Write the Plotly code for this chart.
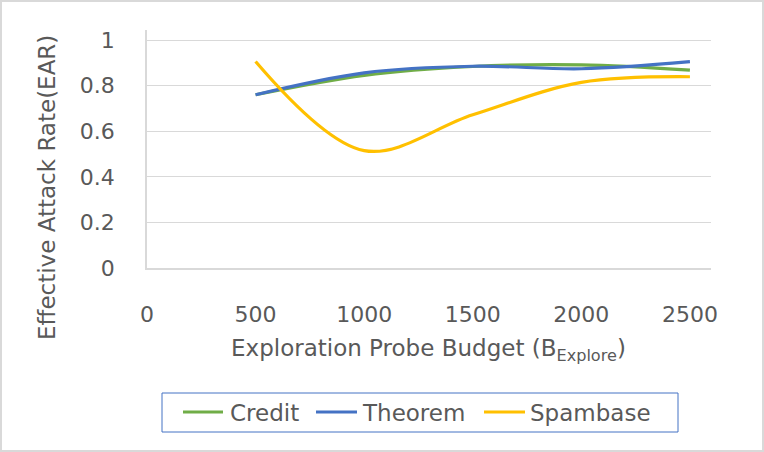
import plotly.graph_objects as go

budget = [500, 1000, 1500, 2000, 2500]
credit = [0.760, 0.845, 0.884, 0.891, 0.868]
theorem = [0.760, 0.856, 0.885, 0.874, 0.905]
spambase = [0.906, 0.515, 0.672, 0.814, 0.839]

series_names = ["Credit", "Theorem", "Spambase"]
series_colors = ["#70AD47", "#4472C4", "#FFC000"]
x_ticks = [0, 500, 1000, 1500, 2000, 2500]
y_ticks = [0, 0.2, 0.4, 0.6, 0.8, 1]
y_tick_text = ["0", "0.2", "0.4", "0.6", "0.8", "1"]

FONT = "DejaVu Sans"
GRAY = "#595959"

fig = go.Figure()
for name, vals, col in zip(series_names, [credit, theorem, spambase], series_colors):
    fig.add_trace(go.Scatter(
        x=budget, y=vals, name=name, mode="lines",
        line=dict(color=col, width=3.2, shape="spline", smoothing=1.0),
        showlegend=False,
    ))

W, H = 764, 452
L, R, T, B = 147, 53, 30, 184
pw, ph = W - L - R, H - T - B

def px_to_paper_x(px):
    return (px - L) / pw

def px_to_paper_y(py):
    return (H - B - py) / ph

# legend (drawn as shapes + text), positions in pixels
leg_box = (162, 678, 393, 432)
leg_line_x = [(183, 223), (316, 357), (484, 525)]
leg_text_x = [228, 360, 528]
leg_y = 412

shapes = [
    dict(type="rect", xref="paper", yref="paper",
         x0=px_to_paper_x(1), x1=px_to_paper_x(763),
         y0=px_to_paper_y(451), y1=px_to_paper_y(1),
         line=dict(color="#D9D9D9", width=2), layer="below"),
    dict(type="rect", xref="paper", yref="paper",
         x0=px_to_paper_x(leg_box[0]), x1=px_to_paper_x(leg_box[1]),
         y0=px_to_paper_y(leg_box[3]), y1=px_to_paper_y(leg_box[2]),
         line=dict(color="#4472C4", width=1), fillcolor="white"),
]
annotations = [
    dict(text="Effective Attack Rate(EAR)", textangle=-90,
         xref="paper", yref="paper",
         x=px_to_paper_x(47), y=px_to_paper_y(188),
         xanchor="center", yanchor="middle", showarrow=False,
         font=dict(family=FONT, size=23, color=GRAY)),
    dict(text="Exploration Probe Budget (B<sub>Explore</sub>)",
         xref="paper", yref="paper",
         x=px_to_paper_x(428), y=px_to_paper_y(350),
         xanchor="center", yanchor="middle", showarrow=False,
         font=dict(family=FONT, size=23, color=GRAY)),
]
for name, col, (lx0, lx1), tx in zip(series_names, series_colors, leg_line_x, leg_text_x):
    shapes.append(dict(type="line", xref="paper", yref="paper",
                       x0=px_to_paper_x(lx0), x1=px_to_paper_x(lx1),
                       y0=px_to_paper_y(leg_y), y1=px_to_paper_y(leg_y),
                       line=dict(color=col, width=3.2)))
    annotations.append(dict(text=name, xref="paper", yref="paper",
                            x=px_to_paper_x(tx), y=px_to_paper_y(leg_y + 1),
                            xanchor="left", yanchor="middle", showarrow=False,
                            font=dict(family=FONT, size=23, color=GRAY)))

fig.update_layout(
    width=W, height=H,
    margin=dict(l=L, r=R, t=T, b=B, pad=0),
    paper_bgcolor="white", plot_bgcolor="white",
    font=dict(family=FONT, color=GRAY, size=20),
    showlegend=False,
    xaxis=dict(
        range=[0, 2597], tickvals=x_ticks, ticktext=[str(v) for v in x_ticks],
        showgrid=False, zeroline=False,
        showline=True, linecolor="#D9D9D9", linewidth=1.5,
        ticks="", ticklabelstandoff=26,
        tickfont=dict(family=FONT, size=22, color=GRAY),
    ),
    yaxis=dict(
        range=[0, 1.044], tickvals=y_ticks, ticktext=y_tick_text,
        showgrid=True, gridcolor="#D9D9D9", gridwidth=1,
        zeroline=False,
        showline=True, linecolor="#D9D9D9", linewidth=1.5,
        ticks="", ticklabelstandoff=26,
        tickfont=dict(family=FONT, size=22, color=GRAY),
    ),
    annotations=annotations,
    shapes=shapes,
)

fig.write_html("out.html")
